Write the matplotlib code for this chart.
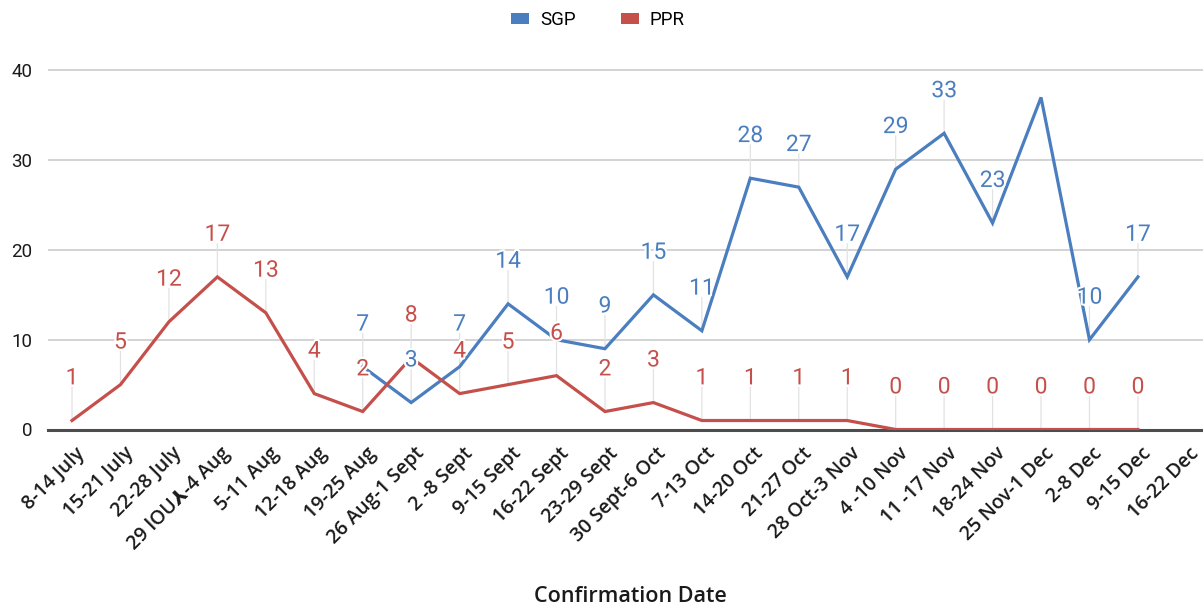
import matplotlib
matplotlib.use("Agg")
import matplotlib.pyplot as plt
import matplotlib.patheffects as pe
import matplotlib.transforms as mtransforms
from matplotlib.patches import Patch
import numpy as np

# weekly confirmations
weeks = ["8-14 July", "15-21 July", "22-28 July", "29 lOU⅄-4 Aug", "5-11 Aug",
         "12-18 Aug", "19-25 Aug", "26 Aug-1 Sept", "2 -8 Sept", "9-15 Sept",
         "16-22 Sept", "23-29 Sept", "30 Sept-6 Oct", "7-13 Oct", "14-20 Oct",
         "21-27 Oct", "28 Oct-3 Nov", "4 -10 Nov", "11 -17 Nov", "18-24 Nov",
         "25 Nov-1 Dec", "2-8 Dec", "9-15 Dec", "16-22 Dec"]
nan = np.nan
sgp = [nan, nan, nan, nan, nan, nan, 7, 3, 7, 14, 10, 9, 15, 11, 28, 27, 17,
       29, 33, 23, 37, 10, 17, nan]
ppr = [1, 5, 12, 17, 13, 4, 2, 8, 4, 5, 6, 2, 3, 1, 1, 1, 1, 0, 0, 0, 0, 0, 0, nan]
sgp_hidden_labels = [20]   # label not shown in the original

BLUE = "#4a7ebf"
RED = "#c5504b"

fig = plt.figure(figsize=(12.03, 6.09), dpi=100)
ax = fig.add_axes([47.8 / 1203, 179.5 / 609, 1162.8 / 1203, 368 / 609])

x = np.arange(len(weeks))

# grid
for v in [10, 20, 30, 40]:
    ax.axhline(v, color="#d0d0d0", lw=1.3, zorder=0)
ax.axhline(0, color="#4d4d4d", lw=2.2, zorder=1, clip_on=False)

ax.plot(x, sgp, color=BLUE, lw=2.3, zorder=3, solid_joinstyle="miter")
ax.plot(x, ppr, color=RED, lw=2.3, zorder=3, solid_joinstyle="miter")

halo = [pe.withStroke(linewidth=3, foreground="white")]


def add_labels(vals, color, skip=()):
    for i, v in enumerate(vals):
        if np.isnan(v) or i in skip:
            continue
        # faint leader line from point up to label
        ax.annotate("", xy=(i, v), xytext=(0, 24), textcoords="offset points",
                    arrowprops=dict(arrowstyle="-", color="#e2e2e2", lw=0.9,
                                    shrinkA=0, shrinkB=0),
                    zorder=2, annotation_clip=False)
        ax.annotate(f"{int(v)}", xy=(i, v), xytext=(0, 26), textcoords="offset points",
                    ha="center", va="baseline", fontsize=16.5, color=color,
                    family="Roboto", zorder=4, path_effects=halo,
                    annotation_clip=False)


add_labels(ppr, RED)
add_labels(sgp, BLUE, sgp_hidden_labels)

ax.set_xlim(-0.5, 23.5)
ax.set_ylim(0, 41)
ax.set_yticks([0, 10, 20, 30, 40])
ax.tick_params(axis="y", length=0, pad=11, labelsize=13.5, labelcolor="#1a1a1a")
for t in ax.get_yticklabels():
    t.set_family("Roboto")

ax.set_xticks(x)
ax.set_xticklabels(weeks, rotation=45, ha="right", va="top", rotation_mode="anchor",
                   family=["Open Sans", "DejaVu Sans"], fontsize=14,
                   fontweight="semibold", color="#1a1a1a")
ax.tick_params(axis="x", length=0, pad=10)
shift = mtransforms.ScaledTranslation(3 / 100, 0, fig.dpi_scale_trans)
for t in ax.get_xticklabels():
    t.set_transform(t.get_transform() + shift)

for s in ax.spines.values():
    s.set_visible(False)

fig.text(630 / 1203, 1 - 597 / 609, "Confirmation Date", ha="center", va="center",
         fontsize=15.5, family="Open Sans", color="#1a1a1a", fontweight="semibold")

handles = [Patch(facecolor=BLUE, edgecolor="none", label="SGP"),
           Patch(facecolor=RED, edgecolor="none", label="PPR")]
fig.legend(handles=handles, loc="center", bbox_to_anchor=(598 / 1203, 1 - 20 / 609),
           ncol=2, frameon=False, handlelength=0.95, handleheight=0.5,
           columnspacing=2.4, handletextpad=0.6,
           prop=dict(family="Roboto", size=13.5))

fig.savefig("out.png", dpi=100, facecolor="white")
